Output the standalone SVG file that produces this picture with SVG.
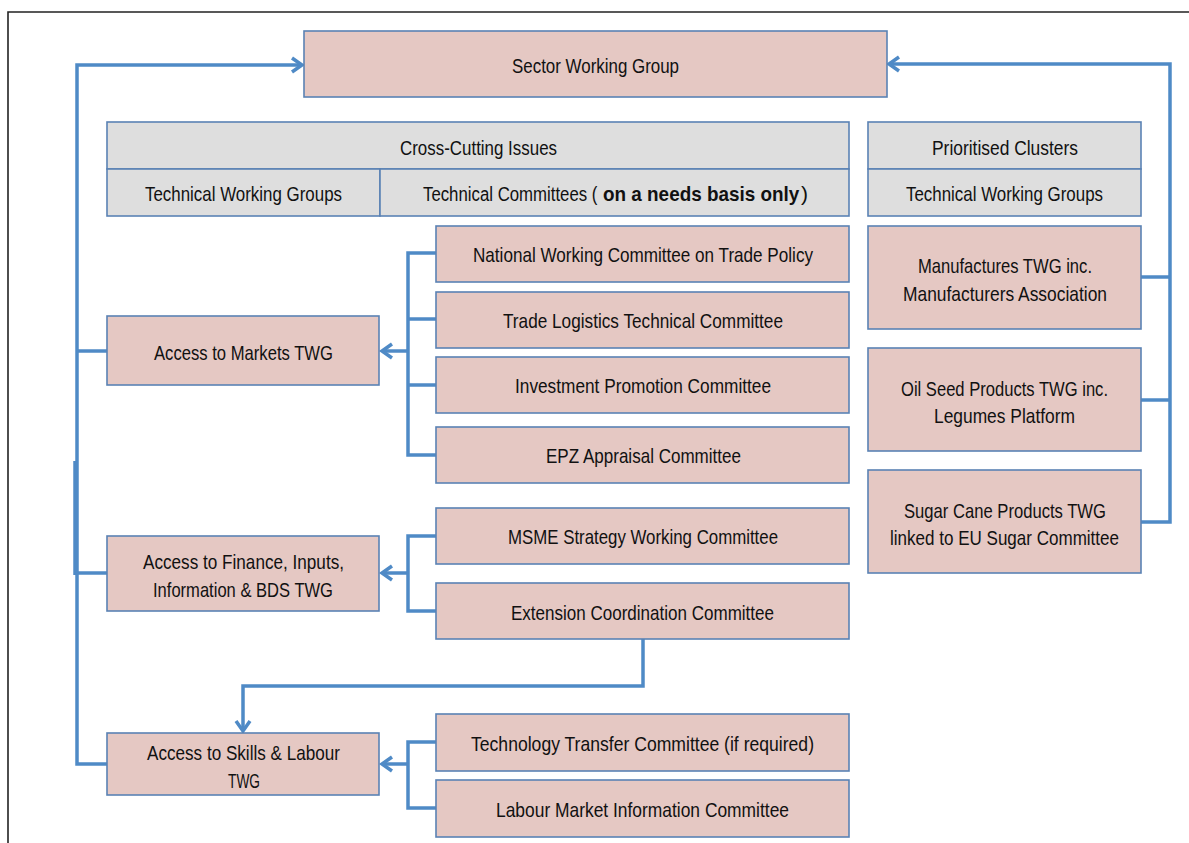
<svg xmlns="http://www.w3.org/2000/svg" width="1189" height="843" viewBox="0 0 1189 843">
<style>
.box{fill:#e5c8c3;stroke:#5a82b4;stroke-width:1.6}
.hdr{fill:#dedede;stroke:#5a82b4;stroke-width:1.6}
.t{font-family:"Liberation Sans",Arial,sans-serif;font-size:21px;fill:#111}
.b{font-weight:bold}
.c{fill:none;stroke:#4f8ac6;stroke-width:3.5}
</style>
<defs>
<marker id="ah" markerUnits="userSpaceOnUse" markerWidth="16" markerHeight="18" refX="12" refY="9" orient="auto">
<path d="M2,2 L12,9 L2,16" fill="none" stroke="#4f8ac6" stroke-width="3.5"/>
</marker>
</defs>
<rect width="1189" height="843" fill="#fff"/>
<path d="M8,843 V12 H1189" fill="none" stroke="#222" stroke-width="1.6"/>

<g id="connectors">
<path class="c" d="M107,764 H77 V65 H302" marker-end="url(#ah)"/>
<path class="c" d="M75,461 V575"/>
<path class="c" d="M107,351 H77"/>
<path class="c" d="M107,573 H77"/>
<path class="c" d="M1141,522 H1170 V64 H889" marker-end="url(#ah)"/>
<path class="c" d="M1141,277 H1170"/>
<path class="c" d="M1141,400 H1170"/>
<path class="c" d="M436,253 H408 V455 H436"/>
<path class="c" d="M436,319 H408"/>
<path class="c" d="M436,385 H408"/>
<path class="c" d="M408,351 H382" marker-end="url(#ah)"/>
<path class="c" d="M436,536 H408 V611 H436"/>
<path class="c" d="M408,573 H382" marker-end="url(#ah)"/>
<path class="c" d="M643,639 V686 H243 V731" marker-end="url(#ah)"/>
<path class="c" d="M436,742 H408 V808 H436"/>
<path class="c" d="M408,764 H382" marker-end="url(#ah)"/>
</g>

<g id="sector">
<rect class="box" x="304" y="31" width="583" height="66"/>
<text class="t" x="512" y="73" textLength="167" lengthAdjust="spacingAndGlyphs">Sector Working Group</text>
</g>

<g id="crosscutting">
<rect class="hdr" x="107" y="122" width="742" height="47"/>
<rect class="hdr" x="107" y="169" width="273" height="47"/>
<rect class="hdr" x="380" y="169" width="469" height="47"/>
<text class="t" x="400" y="155" textLength="157" lengthAdjust="spacingAndGlyphs">Cross-Cutting Issues</text>
<text class="t" x="145" y="201" textLength="197" lengthAdjust="spacingAndGlyphs">Technical Working Groups</text>
<text class="t" transform="translate(423,201) scale(0.8,1)">Technical Committees (</text>
<text class="t b" transform="translate(603,201) scale(0.9,1)">on a needs basis only</text>
<text class="t" transform="translate(801,201)">)</text>
</g>

<g id="clusters">
<rect class="hdr" x="868" y="122" width="273" height="47"/>
<rect class="hdr" x="868" y="169" width="273" height="47"/>
<text class="t" x="932" y="155" textLength="146" lengthAdjust="spacingAndGlyphs">Prioritised Clusters</text>
<text class="t" x="906" y="201" textLength="197" lengthAdjust="spacingAndGlyphs">Technical Working Groups</text>
</g>

<g id="markets">
<rect class="box" x="107" y="316" width="272" height="69"/>
<text class="t" x="154" y="360" textLength="179" lengthAdjust="spacingAndGlyphs">Access to Markets TWG</text>
</g>
<g id="finance">
<rect class="box" x="107" y="536" width="272" height="75"/>
<text class="t" x="143" y="569" textLength="201" lengthAdjust="spacingAndGlyphs">Access to Finance, Inputs,</text>
<text class="t" x="153" y="597" textLength="180" lengthAdjust="spacingAndGlyphs">Information &amp; BDS TWG</text>
</g>
<g id="skills">
<rect class="box" x="107" y="733" width="272" height="62"/>
<text class="t" x="147" y="760" textLength="193" lengthAdjust="spacingAndGlyphs">Access to Skills &amp; Labour</text>
<text class="t" x="228" y="788" textLength="32" lengthAdjust="spacingAndGlyphs">TWG</text>
</g>

<g id="nwc">
<rect class="box" x="436" y="226" width="413" height="56"/>
<text class="t" x="473" y="262" textLength="340" lengthAdjust="spacingAndGlyphs">National Working Committee on Trade Policy</text>
</g>
<g id="tltc">
<rect class="box" x="436" y="292" width="413" height="56"/>
<text class="t" x="503" y="328" textLength="280" lengthAdjust="spacingAndGlyphs">Trade Logistics Technical Committee</text>
</g>
<g id="ipc">
<rect class="box" x="436" y="357" width="413" height="56"/>
<text class="t" x="515" y="393" textLength="256" lengthAdjust="spacingAndGlyphs">Investment Promotion Committee</text>
</g>
<g id="epz">
<rect class="box" x="436" y="427" width="413" height="56"/>
<text class="t" x="546" y="463" textLength="195" lengthAdjust="spacingAndGlyphs">EPZ Appraisal Committee</text>
</g>
<g id="msme">
<rect class="box" x="436" y="508" width="413" height="56"/>
<text class="t" x="508" y="544" textLength="270" lengthAdjust="spacingAndGlyphs">MSME Strategy Working Committee</text>
</g>
<g id="ecc">
<rect class="box" x="436" y="583" width="413" height="56"/>
<text class="t" x="511" y="620" textLength="263" lengthAdjust="spacingAndGlyphs">Extension Coordination Committee</text>
</g>
<g id="ttc">
<rect class="box" x="436" y="714" width="413" height="57"/>
<text class="t" x="471" y="751" textLength="343" lengthAdjust="spacingAndGlyphs">Technology Transfer Committee (if required)</text>
</g>
<g id="lmic">
<rect class="box" x="436" y="780" width="413" height="57"/>
<text class="t" x="496" y="817" textLength="293" lengthAdjust="spacingAndGlyphs">Labour Market Information Committee</text>
</g>

<g id="manufactures">
<rect class="box" x="868" y="226" width="273" height="103"/>
<text class="t" x="918" y="273" textLength="174" lengthAdjust="spacingAndGlyphs">Manufactures TWG inc.</text>
<text class="t" x="903" y="301" textLength="204" lengthAdjust="spacingAndGlyphs">Manufacturers Association</text>
</g>
<g id="oilseed">
<rect class="box" x="868" y="348" width="273" height="103"/>
<text class="t" x="901" y="396" textLength="207" lengthAdjust="spacingAndGlyphs">Oil Seed Products TWG inc.</text>
<text class="t" x="934" y="423" textLength="141" lengthAdjust="spacingAndGlyphs">Legumes Platform</text>
</g>
<g id="sugar">
<rect class="box" x="868" y="470" width="273" height="103"/>
<text class="t" x="904" y="518" textLength="202" lengthAdjust="spacingAndGlyphs">Sugar Cane Products TWG</text>
<text class="t" x="890" y="545" textLength="229" lengthAdjust="spacingAndGlyphs">linked to EU Sugar Committee</text>
</g>
</svg>
